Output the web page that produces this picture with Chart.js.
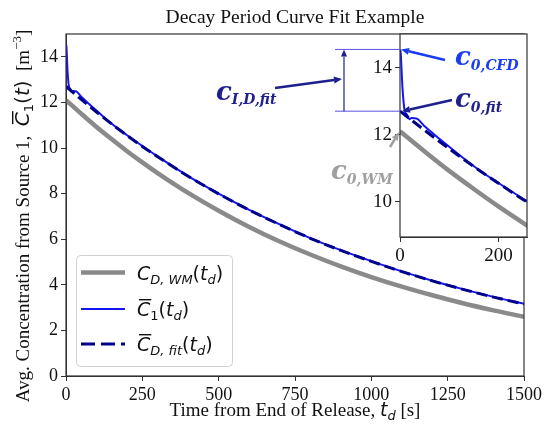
<!DOCTYPE html>
<html>
<head>
<meta charset="utf-8">
<script src="https://cdn.jsdelivr.net/npm/chart.js@4"></script>
<style>
    html, body { margin: 0; padding: 0; background: #fff; }
    #wrap { position: relative; width: 545px; height: 428px; }
    #wrap canvas { position: absolute; left: 0; top: 0; }
</style>
</head>
<body>
<div id="wrap">
    <canvas id="main" width="545" height="428"></canvas>
    <canvas id="inset" width="545" height="428"></canvas>
</div>
<script>
/* Values */
const T_WM = [0, 50, 100, 150, 200, 250, 300, 400, 500, 600, 700, 800, 900, 1000, 1100, 1200, 1300, 1400, 1500];
const C_WM = [12.10, 11.50, 10.92, 10.38, 9.86, 9.37, 8.90, 8.03, 7.25, 6.54, 5.90, 5.33, 4.81, 4.34, 3.92, 3.54, 3.19, 2.88, 2.60];

const T_FIT = [0, 50, 100, 150, 200, 250, 300, 400, 500, 600, 700, 800, 900, 1000, 1100, 1200, 1300, 1400, 1500];
const C_FIT = [12.70, 12.13, 11.58, 11.05, 10.55, 10.07, 9.62, 8.76, 7.99, 7.28, 6.64, 6.04, 5.51, 5.03, 4.58, 4.17, 3.80, 3.46, 3.16];

const T_CFD = [0, 1, 5, 9, 14, 19, 24, 34, 50, 80, 110, 140, 170, 200, 250, 300, 400, 500, 600, 700, 800, 900, 1000, 1100, 1200, 1300, 1400, 1500];
const C_CFD = [14.54, 14.50, 13.40, 12.75, 12.60, 12.46, 12.50, 12.48, 12.25, 11.88, 11.52, 11.17, 10.85, 10.56, 10.09, 9.63, 8.77, 8.00, 7.29, 6.65, 6.05, 5.52, 5.04, 4.59, 4.18, 3.81, 3.47, 3.17];

const X_TICKS = [0, 250, 500, 750, 1000, 1250, 1500];
const Y_TICKS = [0, 2, 4, 6, 8, 10, 12, 14];
const INSET_X_TICKS = [0, 200];
const INSET_Y_TICKS = [10, 12, 14];

const TITLE = "Decay Period Curve Fit Example";

const SERIF = "'Liberation Serif', 'Times New Roman', serif";
const MATH = "'DejaVu Sans', sans-serif";
const ANNO = "'DejaVu Serif', serif";

const COLORS = {
    wm: "#8a8a8a",
    cfd: "#1414f5",
    fit: "#00008b",
    axis: "#333",
    text: "#111",
    annoBlue: "#1a3df2",
    annoNavy: "#1f1f8f",
    annoGray: "#a0a0a0",
    bracket: "#5a50e0",
};

function pts(xs, ys) {
    return xs.map((x, i) => ({ x: x, y: ys[i] }));
}

function datasets() {
    return [
        { data: pts(T_WM, C_WM), borderColor: COLORS.wm, borderWidth: 4.5, order: 2 },
        { data: pts(T_CFD, C_CFD), borderColor: COLORS.cfd, borderWidth: 2, order: 1 },
        { data: pts(T_FIT, C_FIT), borderColor: COLORS.fit, borderWidth: 3, borderDash: [11, 5], order: 0 },
    ].map(d => Object.assign(d, { pointRadius: 0, fill: false, cubicInterpolationMode: "monotone" }));
}

/* Draw a run of text pieces: [text, font, dy, overline] */
function drawRich(ctx, parts, x, y, align) {
    let w = 0;
    parts.forEach(p => { ctx.font = p[1]; w += ctx.measureText(p[0]).width; });
    let cx = align === "center" ? x - w / 2 : x;
    parts.forEach(p => {
        ctx.font = p[1];
        const pw = ctx.measureText(p[0]).width;
        ctx.fillText(p[0], cx, y + (p[2] || 0));
        if (p[3]) ctx.fillRect(cx + 2, y - p[3], pw - 1, 1.4);
        cx += pw;
    });
    return w;
}

function arrow(ctx, x1, y1, x2, y2, color, w, head, half) {
    const a = Math.atan2(y2 - y1, x2 - x1);
    const hx = x2 - head * Math.cos(a), hy = y2 - head * Math.sin(a);
    ctx.strokeStyle = color;
    ctx.fillStyle = color;
    ctx.lineWidth = w;
    ctx.beginPath();
    ctx.moveTo(x1, y1);
    ctx.lineTo(hx, hy);
    ctx.stroke();
    ctx.beginPath();
    ctx.moveTo(x2, y2);
    ctx.lineTo(hx + half * Math.sin(a), hy - half * Math.cos(a));
    ctx.lineTo(hx - half * Math.sin(a), hy + half * Math.cos(a));
    ctx.closePath();
    ctx.fill();
}

function axisOpts(min, max, ticks, size, fixed) {
    return {
        type: "linear",
        min: min,
        max: max,
        afterBuildTicks: s => { s.ticks = ticks.map(v => ({ value: v })); },
        afterFit: fixed,
        ticks: { font: { family: SERIF, size: size }, color: COLORS.text, padding: 3, callback: v => String(v), maxRotation: 0, autoSkip: false },
        grid: { display: true, drawOnChartArea: false, drawTicks: true, tickLength: 5, color: COLORS.axis },
        border: { display: true, color: COLORS.axis, width: 1 },
    };
}

/* Full box around the axes, like matplotlib spines */
const frame = {
    id: "frame",
    beforeDatasetsDraw(chart, args, opts) {
        if (!opts.fillBg) return;
        const a = chart.chartArea, ctx = chart.ctx;
        ctx.save();
        ctx.fillStyle = "#fff";
        ctx.fillRect(a.left, a.top, a.right - a.left, a.bottom - a.top);
        ctx.restore();
    },
    afterDatasetsDraw(chart) {
        const a = chart.chartArea, ctx = chart.ctx;
        ctx.save();
        ctx.strokeStyle = COLORS.axis;
        ctx.lineWidth = 1.2;
        ctx.strokeRect(a.left, a.top, a.right - a.left, a.bottom - a.top);
        ctx.restore();
    },
};

/* Title, axis titles and legend of the main axes */
const mainDecor = {
    id: "mainDecor",
    afterDraw(chart) {
        const ctx = chart.ctx, a = chart.chartArea;
        ctx.save();
        ctx.fillStyle = COLORS.text;
        ctx.textBaseline = "alphabetic";
        ctx.textAlign = "center";
        ctx.font = "19.5px " + SERIF;
        ctx.fillText(TITLE, (a.left + a.right) / 2, 23);
        ctx.textAlign = "left";

        const s19 = "19px " + SERIF, m19 = "italic 19px " + MATH, m13 = "italic 13px " + MATH;
        drawRich(ctx, [
            ["Time from End of Release, ", s19],
            ["t", m19],
            ["d", m13, 4],
            [" [s]", s19],
        ], (a.left + a.right) / 2, 416, "center");

        ctx.translate(29, 216);
        ctx.rotate(-Math.PI / 2);
        const m20 = "italic 20px " + MATH;
        drawRich(ctx, [
            ["Avg. Concentration from Source 1,  ", s19],
            ["C", m20, 0, 17],
            ["1", "13px " + MATH, 4],
            ["(", "20px " + MATH],
            ["t", m20],
            [")", "20px " + MATH],
            ["  [m", s19],
            ["\u22123", "13px " + SERIF, -8],
            ["]", s19],
        ], 0, 0, "center");
        ctx.restore();

        /* legend */
        ctx.save();
        const bx = 76, by = 255, bw = 156, bh = 111;
        ctx.fillStyle = "rgba(255,255,255,0.85)";
        ctx.strokeStyle = "#d0d0d0";
        ctx.lineWidth = 1;
        ctx.beginPath();
        ctx.roundRect(bx + 0.5, by + 0.5, bw, bh, 4);
        ctx.fill();
        ctx.stroke();

        const l19 = "italic 19px " + MATH, l13 = "italic 13px " + MATH, p19 = "19px " + MATH;
        const rows = [
            { y: 272.5, color: COLORS.wm, w: 4.5, dash: [], parts: [["C", l19], ["D, WM", l13, 4], ["(", p19], ["t", l19], ["d", l13, 4], [")", p19]] },
            { y: 309, color: COLORS.cfd, w: 2, dash: [], parts: [["C", l19, 0, 17], ["1", "13px " + MATH, 4], ["(", p19], ["t", l19], ["d", l13, 4], [")", p19]] },
            { y: 344, color: COLORS.fit, w: 3, dash: [14, 6], parts: [["C", l19, 0, 17], ["D, fit", l13, 4], ["(", p19], ["t", l19], ["d", l13, 4], [")", p19]] },
        ];
        rows.forEach(r => {
            ctx.strokeStyle = r.color;
            ctx.lineWidth = r.w;
            ctx.setLineDash(r.dash);
            ctx.beginPath();
            ctx.moveTo(81, r.y);
            ctx.lineTo(125, r.y);
            ctx.stroke();
            ctx.setLineDash([]);
            ctx.fillStyle = COLORS.text;
            drawRich(ctx, r.parts, 137, r.y + 7, "left");
        });
        ctx.restore();
    },
};

/* Annotations around the inset, placed against its scales */
const insetDecor = {
    id: "insetDecor",
    afterDraw(chart) {
        const ctx = chart.ctx, y = chart.scales.y, x = chart.scales.x;
        const yTop = y.getPixelForValue(C_CFD[0]);
        const yBot = y.getPixelForValue(C_FIT[0]);
        const yWm = y.getPixelForValue(C_WM[0]);
        const x0 = x.getPixelForValue(0);
        ctx.save();

        ctx.strokeStyle = COLORS.bracket;
        ctx.lineWidth = 1;
        ctx.beginPath();
        ctx.moveTo(335, yTop); ctx.lineTo(x0, yTop);
        ctx.moveTo(335, yBot); ctx.lineTo(x0, yBot);
        ctx.stroke();
        arrow(ctx, 344, yBot, 344, yTop, COLORS.annoNavy, 1.2, 7, 3);

        arrow(ctx, 275, 88, 342, 79, COLORS.annoNavy, 2.6, 8, 3.5);
        arrow(ctx, 445, 60, x0 + 1, yTop, COLORS.annoBlue, 2.6, 8, 3.5);
        arrow(ctx, 452, 100, x0 + 2, yBot, COLORS.annoNavy, 2.6, 8, 3.5);
        arrow(ctx, 390, 147, x0 - 1, yWm + 1, COLORS.annoGray, 2.6, 8, 3.5);

        const big = "bold italic 26px " + ANNO, sub = "bold italic 14px " + ANNO;
        ctx.textBaseline = "alphabetic";
        ctx.fillStyle = COLORS.annoNavy;
        drawRich(ctx, [["c", big], ["I,D,fit", sub, 4]], 216, 100, "left");
        ctx.fillStyle = COLORS.annoBlue;
        drawRich(ctx, [["c", big], ["0,CFD", sub, 5]], 455, 65, "left");
        ctx.fillStyle = COLORS.annoNavy;
        drawRich(ctx, [["c", big], ["0,fit", sub, 5]], 455, 107, "left");
        ctx.fillStyle = COLORS.annoGray;
        drawRich(ctx, [["c", big], ["0,WM", sub, 5]], 331, 179, "left");
        ctx.restore();
    },
};

const common = {
    animation: false,
    responsive: false,
    events: [],
};

new Chart(document.getElementById("main"), {
    type: "line",
    data: { datasets: datasets() },
    plugins: [frame, mainDecor],
    options: Object.assign({}, common, {
        layout: { padding: { top: 34, right: 18, left: 0, bottom: 0 } },
        plugins: {
            legend: { display: false },
            tooltip: { enabled: false },
            title: { display: false },
            frame: { fillBg: false },
        },
        scales: {
            x: axisOpts(0, 1500, X_TICKS, 18, s => { s.height = 52; }),
            y: axisOpts(0, 15, Y_TICKS, 18, s => { s.width = 66; }),
        },
    }),
});

new Chart(document.getElementById("inset"), {
    type: "line",
    data: { datasets: datasets() },
    plugins: [frame, insetDecor],
    options: Object.assign({}, common, {
        layout: { padding: { top: 34, right: 18, left: 370, bottom: 166 } },
        plugins: {
            legend: { display: false },
            tooltip: { enabled: false },
            frame: { fillBg: true },
        },
        scales: {
            x: axisOpts(0, 258, INSET_X_TICKS, 19, s => { s.height = 25; }),
            y: axisOpts(8.95, 15, INSET_Y_TICKS, 19, s => { s.width = 30; }),
        },
    }),
});
</script>
</body>
</html>
